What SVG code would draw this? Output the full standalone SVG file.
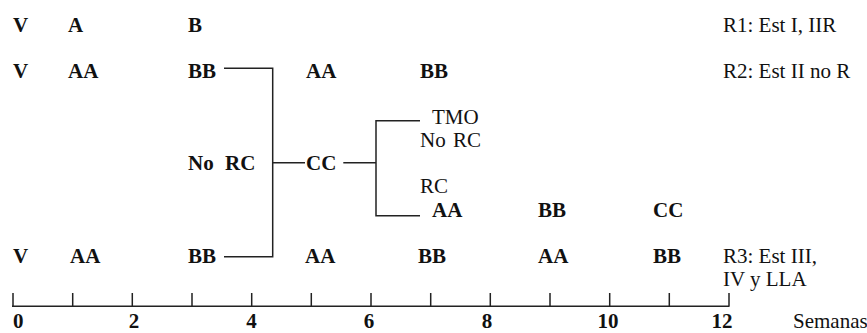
<svg xmlns="http://www.w3.org/2000/svg" width="867" height="333" viewBox="0 0 867 333" font-family="'Liberation Serif', Tinos, 'Times New Roman', Times, 'DejaVu Serif', serif">
<style>
text{font-family:"Liberation Serif",Tinos,"Times New Roman",Times,"DejaVu Serif",serif;font-size:21px;fill:#111}
.b{font-weight:bold}
.m{text-anchor:middle}
.ln{fill:none;stroke:#222;stroke-width:1.5}
</style>
<rect width="867" height="333" fill="#fff"/>
<g id="row1">
<text class="b" x="13" y="32">V</text>
<text class="b" x="68" y="32">A</text>
<text class="b" x="188" y="32">B</text>
<text x="723" y="32">R1: Est I, IIR</text>
</g>
<g id="row2">
<text class="b" x="13" y="77.5">V</text>
<text class="b" x="68" y="77.5">AA</text>
<text class="b" x="188" y="77.5">BB</text>
<text class="b" x="306" y="77.5">AA</text>
<text class="b" x="420" y="77.5">BB</text>
<text x="723" y="77.5">R2: Est II no R</text>
</g>
<g id="branch-noRC">
<text class="b" x="188" y="170">No<tspan x="225">RC</tspan></text>
</g>
<g id="node-CC">
<text class="b" x="306" y="170">CC</text>
</g>
<g id="branch-TMO">
<text x="432" y="124">TMO</text>
<text x="420" y="146.5">No<tspan x="453">RC</tspan></text>
</g>
<g id="branch-RC">
<text x="420" y="193">RC</text>
<text class="b" x="432" y="216.5">AA</text>
<text class="b" x="538" y="216.5">BB</text>
<text class="b" x="653" y="216.5">CC</text>
</g>
<g id="row3">
<text class="b" x="13" y="263">V</text>
<text class="b" x="70" y="263">AA</text>
<text class="b" x="188" y="263">BB</text>
<text class="b" x="305" y="263">AA</text>
<text class="b" x="418" y="263">BB</text>
<text class="b" x="538" y="263">AA</text>
<text class="b" x="653" y="263">BB</text>
<text x="723" y="263">R3: Est III,</text>
<text x="723" y="286">IV y LLA</text>
</g>
<g id="connectors">
<path class="ln" d="M224 68.3H272.7V256.7H224"/>
<path class="ln" d="M272.7 162.7H305"/>
<path class="ln" d="M343.3 162.7H376"/>
<path class="ln" d="M420 120.7H376V215.7H420"/>
</g>
<g id="axis">
<path class="ln" d="M12 306.3H729.5M13 293V306.3M72.7 293V306.3M132.3 293V306.3M192 293V306.3M251.7 293V306.3M311.3 293V306.3M371 293V306.3M430.7 293V306.3M490.3 293V306.3M550 293V306.3M609.7 293V306.3M669.3 293V306.3M729 293V306.3"/>
<text class="b" x="13" y="328">0</text>
<text class="b m" x="134" y="328">2</text>
<text class="b m" x="251.5" y="328">4</text>
<text class="b m" x="369" y="328">6</text>
<text class="b m" x="487" y="328">8</text>
<text class="b m" x="608" y="328">10</text>
<text class="b m" x="722" y="328">12</text>
<text x="793" y="328">Semanas</text>
</g>
</svg>
